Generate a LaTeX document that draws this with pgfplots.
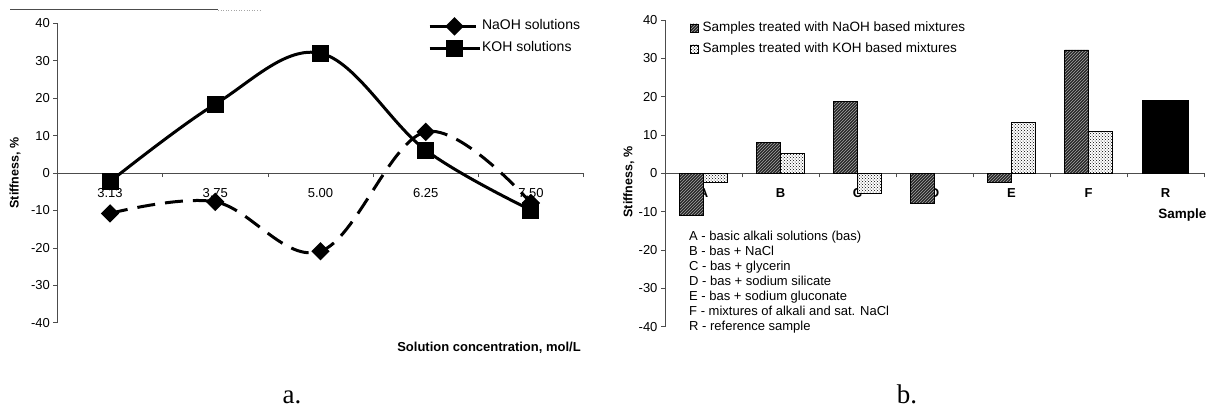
\documentclass[border=0pt]{standalone}
\usepackage{pgfplots}
\pgfplotsset{compat=1.18}
\usepackage{fontspec}
\setmainfont{Liberation Sans}
\newfontfamily\seriffont{Liberation Serif}
\usetikzlibrary{patterns}
\begin{document}
\begin{tikzpicture}[x=1pt,y=1pt]
\path[use as bounding box] (0,0) rectangle (1207,408);
\draw[black!70, line width=1pt] (10,398) -- (218,398);
\draw[black!35, line width=0.6pt, dotted] (218,398) -- (262,398);
% ---------------- chart a ----------------
\begin{axis}[
  at={(57.4pt,85.3pt)}, anchor=south west,
  scale only axis, width=526.2pt, height=299.4pt,
  xmin=-0.5, xmax=4.5, ymin=-40, ymax=40,
  axis x line=middle, axis y line=left,
  axis line style={black!70, line width=0.8pt, -},
  xtick={0,...,4}, xticklabels={3.13,3.75,5.00,6.25,7.50},
  major x tick style={draw=none},
  minor xtick={0.5,1.5,2.5,3.5,4.5},
  minor x tick style={black!70, line width=0.6pt},
  ytick={-40,-30,...,40},
  tick align=outside, major tick length=4pt, minor tick length=4pt,
  y tick style={black!70, line width=0.6pt},
  /pgf/number format/assume math mode=true,
  tick label style={font=\fontsize{13}{13}\selectfont},
  xticklabel style={yshift=-8pt},
  ylabel={\bfseries Stiffness, \%},
  ylabel style={at={(axis description cs:-0.0806,0.5)}, anchor=center, rotate=0, font=\fontsize{12.5}{12}\selectfont},
  xlabel={\bfseries Solution concentration, mol/L},
  xlabel style={at={(axis description cs:0.8202,-0.0845)}, anchor=center, font=\fontsize{13}{13}\selectfont},
  clip=false,
  legend style={at={(axis description cs:0.704,1.014)}, anchor=north west, draw=none, fill=none,
    font=\fontsize{14}{14}\selectfont, row sep=8pt, inner sep=0pt,
    nodes={inner sep=0pt, text height=10pt, text depth=3pt},
    /tikz/every odd column/.style={column sep=1pt}},
  legend cell align=left,
  legend image code/.code={\draw[mark repeat=2,mark phase=2,#1] plot coordinates {(0pt,0pt) (25pt,0pt) (50pt,0pt)};},
]
\addplot[black, line width=3pt, dash pattern=on 18pt off 10pt, smooth, tension=0.6,
  mark=square*, mark size=5pt, mark options={solid, rotate=45}]
  coordinates {(0,-10.8) (1,-7.7) (2,-20.9) (3,11.0) (4,-8.0)};
\addlegendentry{NaOH solutions}
\addplot[black, line width=3pt, smooth, tension=0.6,
  mark=square*, mark size=7pt, mark options={solid}]
  coordinates {(0,-2.3) (1,18.4) (2,32.0) (3,6.1) (4,-9.9)};
\addlegendentry{KOH solutions}
\end{axis}
% ---------------- chart b ----------------
\begin{axis}[
  at={(665pt,81.3pt)}, anchor=south west,
  scale only axis, width=539pt, height=306.7pt,
  xmin=-0.5, xmax=6.5, ymin=-40, ymax=40,
  axis x line=middle, axis y line=left,
  axis line style={black!70, line width=0.8pt, -},
  xtick={0,...,6}, xticklabels={A,B,C,D,E,F,R},
  major x tick style={draw=none},
  minor xtick={0.5,1.5,2.5,3.5,4.5,5.5,6.5},
  minor x tick style={black!70, line width=0.6pt},
  ytick={-40,-30,...,40},
  tick align=outside, major tick length=4pt, minor tick length=4pt,
  y tick style={black!70, line width=0.6pt},
  /pgf/number format/assume math mode=true,
  tick label style={font=\fontsize{13}{13}\selectfont},
  xticklabel style={yshift=-8pt, font=\fontsize{13}{13}\selectfont\bfseries},
  ylabel={\bfseries Stiffness, \%},
  ylabel style={at={(axis description cs:-0.067,0.472)}, anchor=center, font=\fontsize{12.5}{12}\selectfont},
  xlabel={\bfseries Sample},
  xlabel style={at={(axis description cs:0.960,0.364)}, anchor=center, font=\fontsize{13.5}{13}\selectfont},
  clip=false,
  ybar, bar width=0.31,
  legend style={at={(axis description cs:0.0464,0.996)}, anchor=north west, draw=none, fill=none,
    font=\fontsize{13.5}{13}\selectfont, row sep=8pt, inner sep=0pt,
    nodes={inner sep=0pt, text height=10pt, text depth=3pt},
    /tikz/every odd column/.style={column sep=4pt}},
  legend cell align=left,
  legend image code/.code={\draw[#1] (0pt,-4pt) rectangle (8pt,4pt);},
]
\addplot[draw=black, fill=black!85, postaction={pattern=north east lines, pattern color=black!35}, bar shift=-0.155]
  coordinates {(0,-10.9) (1,8.1) (2,18.8) (3,-7.8) (4,-2.3) (5,32.2)};
\addlegendentry{Samples treated with NaOH based mixtures}
\addplot[draw=black, fill=white, postaction={pattern=crosshatch dots, pattern color=black}, bar shift=0.155]
  coordinates {(0,-2.4) (1,5.2) (2,-5.2) (4,13.3) (5,11.0)};
\addlegendentry{Samples treated with KOH based mixtures}
\addplot[draw=black, fill=black, bar width=0.6, bar shift=0, forget plot]
  coordinates {(6,19.0)};
\end{axis}
\node[anchor=north west, align=left, inner sep=0pt, font=\fontsize{13}{15}\selectfont] at (689,177)
  {A - basic alkali solutions (bas)\\
   B - bas + NaCl\\
   C - bas + glycerin\\
   D - bas + sodium silicate\\
   E - bas + sodium gluconate\\
   F - mixtures of alkali and sat. NaCl\\
   R - reference sample};
\node[anchor=base, inner sep=0pt, font=\seriffont\fontsize{27}{27}\selectfont] at (292,5) {a.};
\node[anchor=base, inner sep=0pt, font=\seriffont\fontsize{27}{27}\selectfont] at (907,5) {b.};
\end{tikzpicture}
\end{document}
